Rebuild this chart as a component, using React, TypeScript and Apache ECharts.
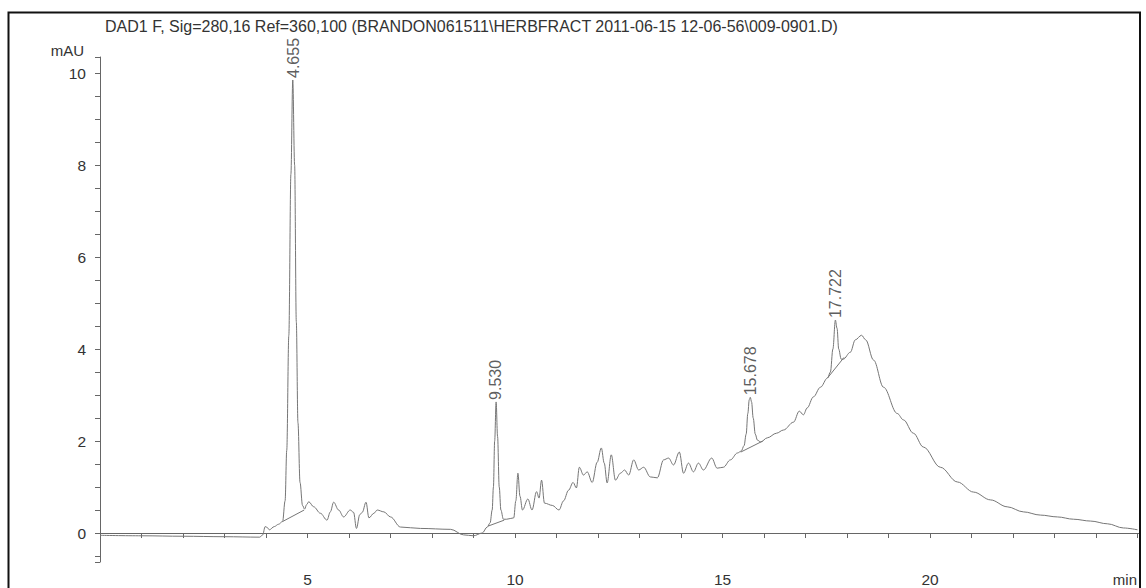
import React, { useEffect, useRef } from "react";
import * as echarts from "echarts";

const TITLE = "DAD1 F, Sig=280,16 Ref=360,100 (BRANDON061511\\HERBFRACT 2011-06-15 12-06-56\\009-0901.D)";
const Y_UNIT = "mAU";
const X_UNIT = "min";

const times = [
  0.0, 1.0, 2.0, 3.0, 3.85, 3.92, 3.98, 4.03, 4.08, 4.2, 4.3, 4.4, 4.46, 4.5, 4.55, 4.6, 4.645, 4.69, 4.73, 4.77,
  4.82, 4.88, 4.93, 4.98, 5.03, 5.15, 5.31, 5.47, 5.55, 5.63, 5.75, 5.87, 6.03, 6.11, 6.18, 6.26, 6.32, 6.41, 6.48,
  6.6, 6.68, 6.84, 7.0, 7.24, 7.72, 8.45, 8.76, 9.0, 9.21, 9.33, 9.4, 9.45, 9.48, 9.51, 9.545, 9.58, 9.62, 9.66, 9.72,
  9.8, 9.97, 10.02, 10.07, 10.12, 10.18, 10.31, 10.41, 10.52, 10.58, 10.64, 10.71, 10.9, 11.06, 11.17, 11.29,
  11.4, 11.48, 11.55, 11.65, 11.74, 11.86, 11.98, 12.08, 12.15, 12.22, 12.32, 12.42, 12.54, 12.64, 12.74, 12.86,
  12.98, 13.1, 13.26, 13.43, 13.58, 13.7, 13.82, 13.96, 14.06, 14.18, 14.3, 14.42, 14.54, 14.74, 14.87, 15.02,
  15.19, 15.36, 15.45, 15.52, 15.57, 15.61, 15.645, 15.67, 15.7, 15.74, 15.79, 15.84, 15.92, 16.08, 16.3, 16.47,
  16.71, 16.85, 16.95, 17.04, 17.19, 17.36, 17.53, 17.6, 17.66, 17.72, 17.76, 17.8, 17.86, 17.91, 18.08, 18.2,
  18.35, 18.45, 18.64, 18.88, 19.21, 19.36, 19.6, 19.84, 20.25, 20.66, 21.05, 21.46, 21.86, 22.25, 22.66, 23.07,
  23.46, 23.87, 24.28, 24.66, 25.0,
];

const signal = [
  -0.05, -0.06, -0.07, -0.08, -0.09, -0.04, 0.14, 0.12, 0.07, 0.14, 0.19, 0.25, 0.7, 1.8, 4.3, 7.8, 9.85, 8.0, 4.6,
  2.4, 1.1, 0.6, 0.52, 0.62, 0.68, 0.57, 0.43, 0.28, 0.46, 0.67, 0.5, 0.35, 0.5, 0.45, 0.1, 0.4, 0.45, 0.67, 0.33,
  0.43, 0.5, 0.46, 0.35, 0.13, 0.1, 0.08, -0.04, -0.06, 0.0, 0.13, 0.22, 0.5, 1.0, 2.0, 2.85, 2.1, 1.0, 0.5, 0.3,
  0.3, 0.33, 0.7, 1.3, 0.8, 0.5, 0.74, 0.5, 0.9, 0.76, 1.15, 0.65, 0.6, 0.5, 0.7, 0.93,
  1.1, 0.98, 1.43, 1.26, 1.33, 1.1, 1.54, 1.85, 1.52, 1.09, 1.7, 1.15, 1.3, 1.37, 1.26, 1.59,
  1.37, 1.43, 1.22, 1.2, 1.59, 1.63, 1.48, 1.76, 1.3, 1.52, 1.33, 1.52, 1.37, 1.63, 1.41, 1.43,
  1.59, 1.74, 1.78, 1.9, 2.15, 2.6, 2.9, 2.95, 2.85, 2.5, 2.15, 2.02, 1.98, 2.07, 2.17, 2.24,
  2.41, 2.65, 2.57, 2.72, 2.96, 3.17, 3.37, 3.5, 4.0, 4.63, 4.45, 4.0, 3.78, 3.78, 3.93, 4.2,
  4.3, 4.2, 3.76, 3.17, 2.6, 2.46, 2.17, 1.87, 1.43, 1.11, 0.89, 0.72, 0.57, 0.46, 0.39, 0.35,
  0.3, 0.26, 0.2, 0.11, 0.07,
];

// integrated peaks: retention time, apex height
const peakTimes = [4.655, 9.53, 15.678, 17.722];
const peakHeights = [9.85, 2.85, 2.95, 4.63];

// integration baselines
const baselineStartT = [4.4, 9.35, 15.44, 17.53];
const baselineStartV = [0.25, 0.15, 1.76, 3.37];
const baselineEndT = [4.92, 9.74, 15.97, 17.93];
const baselineEndV = [0.5, 0.28, 2.0, 3.82];

const xTickLabels = [5, 10, 15, 20];
const yTickLabels = [0, 2, 4, 6, 8, 10];

const FONT = "'Liberation Sans', Arial, Helvetica, sans-serif";
const TEXT = "#333333";
const LINE = "#767676";

export default function App() {
  const ref = useRef<HTMLDivElement>(null);

  useEffect(() => {
    if (!ref.current) return;
    const chart = echarts.init(ref.current, undefined, { renderer: "svg" });

    const baselineSeries = baselineStartT.map((t0, i) => ({
      type: "line",
      data: [
        [t0, baselineStartV[i]],
        [baselineEndT[i], baselineEndV[i]],
      ],
      showSymbol: false,
      silent: true,
      lineStyle: { color: LINE, width: 1 },
      z: 2,
    }));

    const option: any = {
      animation: false,
      backgroundColor: "#ffffff",
      grid: { left: 100, right: 6, top: 57, bottom: 26, containLabel: false },
      xAxis: {
        type: "value",
        min: 0,
        max: 25.06,
        interval: 1,
        axisLine: { show: true, lineStyle: { color: "#666", width: 1 } },
        axisTick: { show: true, length: 5, lineStyle: { color: "#666" } },
        splitLine: { show: false },
        axisLabel: {
          fontFamily: FONT,
          fontSize: 15.5,
          color: TEXT,
          margin: 9,
          formatter: (v: number) => (xTickLabels.some((t) => Math.abs(t - v) < 1e-6) ? String(v) : ""),
        },
      },
      yAxis: {
        type: "value",
        min: -0.63,
        max: 10.35,
        minInterval: 0.5,
        maxInterval: 0.5,
        axisLine: { show: true, lineStyle: { color: "#666", width: 1 } },
        axisTick: { show: true, length: 5, lineStyle: { color: "#666" } },
        splitLine: { show: false },
        axisLabel: {
          fontFamily: FONT,
          fontSize: 15.5,
          color: TEXT,
          margin: 14,
          formatter: (v: number) => (yTickLabels.some((t) => Math.abs(t - v) < 1e-6) ? String(v) : ""),
        },
      },
      graphic: [
        {
          type: "rect",
          shape: { x: 8.5, y: 12.5, width: 1131.5, height: 620 },
          style: { fill: "none", stroke: "#111", lineWidth: 2 },
          silent: true,
          z: 100,
        },
        {
          type: "text",
          x: 105,
          y: 26,
          style: {
            text: TITLE,
            fontFamily: FONT,
            fontSize: 16,
            fill: TEXT,
            textAlign: "left",
            textVerticalAlign: "middle",
          },
        },
        {
          type: "text",
          x: 84,
          y: 50,
          style: {
            text: Y_UNIT,
            fontFamily: FONT,
            fontSize: 15,
            fill: TEXT,
            textAlign: "right",
            textVerticalAlign: "middle",
          },
        },
        {
          type: "text",
          x: 1137,
          y: 579,
          style: {
            text: X_UNIT,
            fontFamily: FONT,
            fontSize: 15,
            fill: TEXT,
            textAlign: "right",
            textVerticalAlign: "middle",
          },
        },
      ],
      series: [
        {
          type: "line",
          data: times.map((t, i) => [t, signal[i]]),
          showSymbol: false,
          smooth: 0.35,
          smoothMonotone: "x",
          silent: true,
          lineStyle: { color: LINE, width: 1 },
          z: 3,
        },
        ...baselineSeries,
        {
          type: "scatter",
          data: peakTimes.map((t, i) => [t, peakHeights[i]]),
          symbolSize: 0,
          silent: true,
          label: {
            show: true,
            position: "top",
            distance: 2,
            rotate: 90,
            align: "left",
            verticalAlign: "middle",
            fontFamily: FONT,
            fontSize: 16,
            color: TEXT,
            formatter: (p: any) => peakTimes[p.dataIndex].toFixed(3),
          },
          z: 4,
        },
      ],
    };

    chart.setOption(option);
    return () => chart.dispose();
  }, []);

  return <div ref={ref} style={{ position: "fixed", left: 0, top: 0, width: 1146, height: 588 }} />;
}
